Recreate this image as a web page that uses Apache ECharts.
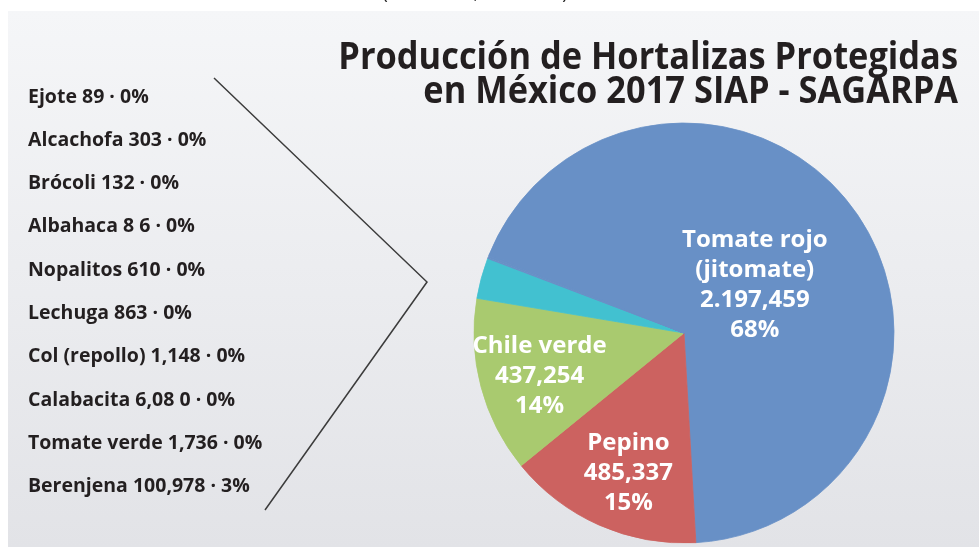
<!DOCTYPE html>
<html>
<head>
<meta charset="utf-8">
<script src="https://cdn.jsdelivr.net/npm/echarts@6/dist/echarts.min.js"></script>
<style>
  html, body { margin: 0; padding: 0; background: #fff; }
  #chart { width: 979px; height: 547px; }
</style>
</head>
<body>
<div id="chart"></div>
<script>
// datos (toneladas) - orden de las rebanadas en el pastel
const categories = [
  'Tomate rojo (jitomate)', 'Pepino', 'Chile verde', 'Berenjena',
  'Tomate verde', 'Calabacita', 'Col (repollo)', 'Lechuga',
  'Nopalitos', 'Albahaca', 'Brócoli', 'Alcachofa', 'Ejote'
]
const values = [
  2197459, 485337, 437254, 100978,
  1736, 6080, 1148, 863,
  610, 86, 132, 303, 89
]
// como vienen escritos en la imagen
const printedValues = [
  '2.197,459', '485,337', '437,254', '100,978',
  '1,736', '6,08 0', '1,148', '863',
  '610', '8 6', '132', '303', '89'
]
// lista de la izquierda (de arriba hacia abajo)
const listNames = [
  'Ejote', 'Alcachofa', 'Brócoli', 'Albahaca', 'Nopalitos',
  'Lechuga', 'Col (repollo)', 'Calabacita', 'Tomate verde', 'Berenjena'
]
const labeled = ['Tomate rojo (jitomate)', 'Pepino', 'Chile verde']

// colores y desplazamiento de etiquetas
const colors = {
  'Tomate rojo (jitomate)': '#6890c6',
  'Pepino': '#cc6260',
  'Chile verde': '#a9ca6f',
  'Berenjena': '#42c1d0'
}
const labelOffsets = {
  'Tomate rojo (jitomate)': [-17, 15],
  'Pepino': [-12, 41],
  'Chile verde': [-40, 16]
}

const total = values.reduce((a, b) => a + b, 0)
const pct = (i) => Math.round((values[i] / total) * 100)

const chart = echarts.init(document.getElementById('chart'))

const data = categories.map((name, i) => {
  const c = colors[name] || '#6890c6'
  return {
    name,
    value: values[i],
    // borde del mismo color para tapar las uniones
    itemStyle: { color: c, borderColor: c, borderWidth: 0.8 },
    label: labeled.includes(name)
      ? { show: true, offset: labelOffsets[name] }
      : { show: false }
  }
})

const option = {
  backgroundColor: '#ffffff',
  animation: false,
  graphic: [
    {
      type: 'rect',
      silent: true,
      z: -10,
      shape: { x: 8, y: 11, width: 971, height: 536 },
      style: {
        fill: {
          type: 'linear', x: 0, y: 0, x2: 0, y2: 1,
          colorStops: [
            { offset: 0, color: '#f5f6f8' },
            { offset: 1, color: '#e2e3e7' }
          ]
        }
      }
    },
    {
      // texto cortado arriba
      type: 'text',
      silent: true,
      x: 475,
      y: 3,
      style: {
        text: '(Toneladas, Año 2017)',
        font: '18px "Open Sans"',
        fill: '#222',
        align: 'center',
        verticalAlign: 'bottom'
      }
    },
    {
      type: 'text',
      silent: true,
      x: 958,
      y: 58,
      scaleX: 0.93,
      style: {
        text: 'Producción de Hortalizas Protegidas',
        font: 'bold 37px "Open Sans"',
        fill: '#231f20',
        align: 'right',
        verticalAlign: 'middle'
      }
    },
    {
      type: 'text',
      silent: true,
      x: 958,
      y: 92,
      scaleX: 0.93,
      style: {
        text: 'en México 2017 SIAP - SAGARPA',
        font: 'bold 37px "Open Sans"',
        fill: '#231f20',
        align: 'right',
        verticalAlign: 'middle'
      }
    },
    {
      type: 'polyline',
      silent: true,
      shape: { points: [[214, 78], [427, 282], [265, 510]] },
      style: { stroke: '#3c3c3c', lineWidth: 1.5, fill: null }
    }
  ],
  legend: {
    orient: 'vertical',
    left: 16,
    top: 82,
    icon: 'none',
    itemWidth: 2,
    itemHeight: 20,
    itemGap: 23.3,
    selectedMode: false,
    data: listNames,
    formatter: (name) => {
      const i = categories.indexOf(name)
      return name + ' ' + printedValues[i] + ' · ' + pct(i) + '%'
    },
    textStyle: {
      fontFamily: 'Open Sans',
      fontWeight: 'bold',
      fontSize: 19.5,
      lineHeight: 20,
      color: '#231f20'
    }
  },
  series: [
    {
      type: 'pie',
      center: [684, 333],
      radius: 210,
      startAngle: 158,
      clockwise: true,
      silent: true,
      label: {
        position: 'inside',
        color: '#ffffff',
        fontFamily: 'Open Sans',
        fontWeight: 'bold',
        fontSize: 24,
        lineHeight: 30,
        align: 'center',
        formatter: (p) => {
          const name = p.name.replace(' (', '\n(')
          return name + '\n' + printedValues[p.dataIndex] + '\n' + Math.round(p.percent) + '%'
        }
      },
      labelLine: { show: false },
      data
    }
  ]
}

chart.setOption(option)
</script>
</body>
</html>
